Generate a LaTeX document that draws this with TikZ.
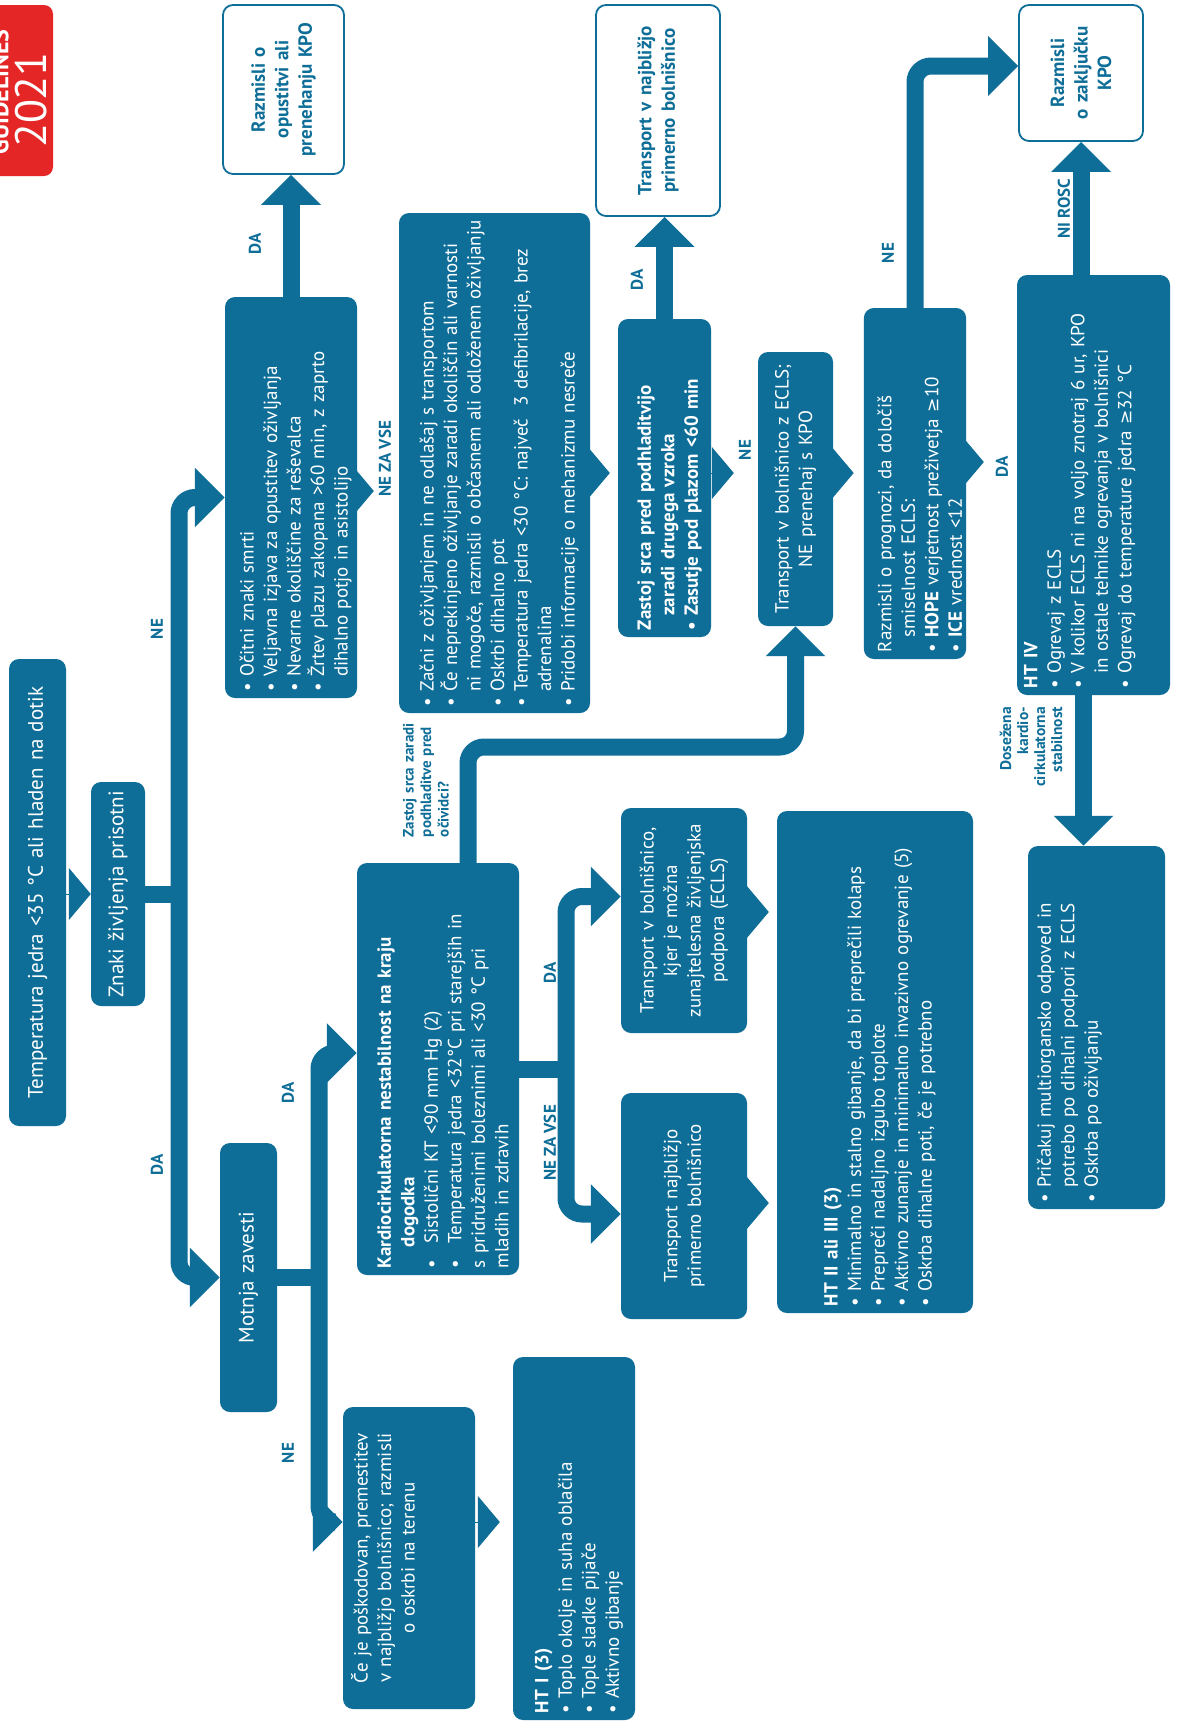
\documentclass[tikz,border=0pt]{standalone}
\usepackage{fontspec}
\setmainfont{PT Sans}
\newfontfamily\symf[Scale=0.9]{DejaVu Sans}
\usetikzlibrary{arrows.meta}
\definecolor{hb}{RGB}{14,110,152}
\definecolor{ercred}{RGB}{228,38,38}
\pgfdeclarelayer{bg}
\pgfsetlayers{bg,main}
% list helpers: bullet line and indented continuation line (never wrapped)
\newcommand\bitem[1]{\par\noindent\makebox[0.75em][l]{•}\mbox{#1}}
\newcommand\bcont[1]{\par\noindent\hspace*{0.75em}\mbox{#1}}
\newcommand\gsym{{\symf ≥}}
\newcommand\bodyfont{\fontsize{19}{23.5}\selectfont}
\newcommand\bigfont{\fontsize{21}{24}\selectfont}
\newcommand\labfont{\fontsize{17}{19}\selectfont\bfseries}
\newcommand\MP[4][t]{\begin{minipage}[c][#3][#1]{#2}#4\end{minipage}}
\begin{document}
\begin{tikzpicture}[x=1pt,y=-1pt,
  bigtip/.tip={Triangle[width=58pt,length=30pt]},
  bx/.style={rotate=90, fill=hb, text=white, rounded corners=10pt,
    inner xsep=7pt, inner ysep=4pt, align=left, font=\bodyfont},
  wbx/.style={rotate=90, draw=hb, line width=1.8pt, fill=white, text=hb,
    rounded corners=10pt, inner sep=4pt, align=center, font=\bodyfont\bfseries},
  lab/.style={rotate=90, text=hb, inner sep=0pt, font=\labfont},
  conn/.style={draw=hb, line width=17pt, rounded corners=16pt, -bigtip},
  both/.style={draw=hb, line width=17pt, rounded corners=16pt, bigtip-bigtip},
  stub/.style={draw=hb, line width=17pt},
  tab/.style={draw=hb, line width=1pt, -{Triangle[width=52pt,length=22pt]}}]
\useasboundingbox (0,0) rectangle (1176,1724);

% ---------- logo ----------
\node[rotate=90, fill=ercred, rounded corners=9pt, minimum width=171pt,
  minimum height=80pt, inner sep=0pt] (logo) at (13,90.5) {};
\node[rotate=90, text=white, font=\fontsize{44}{44}\selectfont, inner sep=0pt]
  (year) at (31,100) {2021};
\node[rotate=90, text=white, font=\fontsize{24}{24}\selectfont\bfseries,
  anchor=south, inner sep=0pt] (gl) at (9,92) {GUIDELINES};

% ---------- left column ----------
\node[bx, font=\bigfont, align=center, minimum width=467pt, minimum height=57pt,
  text width=453pt] (temp) at (37.5,892.5) {Temperatura jedra <35 °C ali hladen na dotik};
\node[bx, font=\bigfont, align=center, minimum width=224pt, minimum height=54pt,
  text width=210pt] (znaki) at (118,894) {Znaki življenja prisotni};
\node[bx, font=\bigfont, align=center, minimum width=269pt, minimum height=57pt,
  text width=255pt] (motnja) at (248.5,1277.5) {Motnja zavesti};

% ---------- upper row ----------
\node[bx, minimum width=401pt, minimum height=132pt, text width=387pt]
  (ocitni) at (291,497.5) {%
  \bitem{Očitni znaki smrti}
  \bitem{Veljavna izjava za opustitev oživljanja}
  \bitem{Nevarne okoliščine za reševalca}
  \bitem{Žrtev plazu zakopana >60 min, z zaprto}
  \bcont{dihalno potjo in asistolijo}};
\node[wbx, minimum width=169pt, minimum height=121pt, text width=160pt]
  (razm1) at (283.5,89.5) {Razmisli o\\opustitvi ali\\prenehanju KPO};

\node[bx, minimum width=498pt, minimum height=191pt, text width=486pt]
  (zacni) at (494.5,463) {%
  \bitem{Začni z oživljanjem in ne odlašaj s transportom}
  \bitem{Če neprekinjeno oživljanje zaradi okoliščin ali varnosti}
  \bcont{ni mogoče, razmisli o občasnem ali odloženem oživljanju}
  \bitem{Oskrbi dihalno pot}
  \bitem{Temperatura jedra <30 °C: največ\ \ 3 defibrilacije, brez}
  \bcont{adrenalina}
  \bitem{Pridobi informacije o mehanizmu nesreče}};

\node[wbx, minimum width=211pt, minimum height=124pt, text width=200pt]
  (white2) at (658,110.5) {Transport v najbližjo\\primerno bolnišnico};
\node[bx, font=\bodyfont\bfseries, minimum width=318pt, minimum height=93pt, text width=304pt]
  (zastoj) at (664.5,478) {%
  \par\noindent Zastoj srca pred podhladitvijo
  \bcont{zaradi drugega vzroka}
  \bitem{Zasutje pod plazom <60 min}};

\node[bx, align=center, minimum width=274pt, minimum height=75pt, text width=260pt]
  (ecls) at (795.5,489) {Transport v bolnišnico z ECLS;\\NE prenehaj s KPO};

\node[bx, minimum width=351pt, minimum height=100pt, text width=337pt]
  (prognoza) at (915,483.5) {%
  \par\noindent Razmisli o prognozi, da določiš
  \bcont{smiselnost ECLS:}
  \bitem{\textbf{HOPE} verjetnost preživetja \gsym10}
  \bitem{\textbf{ICE} vrednost <12}};

\node[wbx, minimum width=136pt, minimum height=124pt, text width=126pt]
  (zakl) at (1081,73) {Razmisli\\o zaključku\\KPO};

\node[bx, inner ysep=0pt, minimum width=420pt, minimum height=153pt, text width=406pt]
  (htiv) at (1093.5,485) {\MP{406pt}{139pt}{%
  \textbf{HT IV}
  \bitem{Ogrevaj z ECLS}
  \bitem{V kolikor ECLS ni na voljo znotraj 6 ur, KPO}
  \bcont{in ostale tehnike ogrevanja v bolnišnici}
  \bitem{Ogrevaj do temperature jedra \gsym32 °C}}};

\node[bx, inner ysep=0pt, minimum width=363pt, minimum height=137pt, text width=349pt]
  (pricakuj) at (1096.5,1027.5) {\MP{349pt}{119pt}{%
  \bitem{Pričakuj multiorgansko odpoved in}
  \bcont{potrebo po dihalni podpori z ECLS}
  \bitem{Oskrba po oživljanju}}};

% ---------- lower row ----------
\node[bx, minimum width=412pt, minimum height=162pt, text width=398pt]
  (kardio) at (438,1069) {%
  \par\noindent\textbf{Kardiocirkulatorna nestabilnost na kraju}
  \par\noindent\hspace*{1.1em}\textbf{dogodka}
  \par\noindent\makebox[1.3em][l]{•}Sistolični KT <90 mm Hg (2)
  \par\noindent\makebox[1.3em][l]{•}Temperatura jedra <32°C pri starejših in
  \par\noindent s pridruženimi boleznimi ali <30 °C pri
  \par\noindent mladih in zdravih};

\node[bx, align=center, inner ysep=0pt, minimum width=302pt, minimum height=132pt, text width=288pt]
  (cejep) at (409,1558) {\MP{288pt}{116pt}{\centering
  Če je poškodovan, premestitev\\v najbližjo bolnišnico; razmisli\\o oskrbi na terenu}};

\node[bx, minimum width=363pt, minimum height=122pt, text width=349pt]
  (hti) at (574,1538.5) {%
  \par\noindent\textbf{HT I (3)}
  \bitem{Toplo okolje in suha oblačila}
  \bitem{Tople sladke pijače}
  \bitem{Aktivno gibanje}};

\node[bx, align=center, minimum width=225pt, minimum height=126pt, text width=211pt]
  (kjer) at (684,920.5) {Transport v bolnišnico,\\kjer je možna\\zunajtelesna življenjska\\podpora (ECLS)};
\node[bx, align=center, minimum width=226pt, minimum height=126pt, text width=212pt]
  (najblizjo) at (684,1206) {Transport najbližjo\\primerno bolnišnico};

\node[bx, minimum width=502pt, minimum height=196pt, text width=488pt]
  (htii) at (875,1062) {%
  \par\noindent\textbf{HT II ali III (3)}
  \bitem{Minimalno in stalno gibanje, da bi preprečili kolaps}
  \bitem{Prepreči nadaljno izgubo toplote}
  \bitem{Aktivno zunanje in minimalno invazivno ogrevanje (5)}
  \bitem{Oskrba dihalne poti, če je potrebno}};

% ---------- branch labels ----------
\node[lab] (lNE1) at (157,629) {NE};
\node[lab] (lDA1) at (157,1165) {DA};
\node[lab] (lDA2) at (255,244) {DA};
\node[lab] (lNZV1) at (385,459) {NE ZA VSE};
\node[lab] (lDA3) at (637,280) {DA};
\node[lab] (lNE2) at (745,450) {NE};
\node[lab] (lNE3) at (888,253) {NE};
\node[lab] (lDA4) at (1002,467) {DA};
\node[lab] (lNR) at (1064,209) {NI ROSC};
\node[lab] (lDA5) at (288,1093) {DA};
\node[lab] (lNE4) at (288,1453) {NE};
\node[lab] (lDA6) at (550,973) {DA};
\node[lab] (lNZV2) at (550,1143) {NE ZA VSE};
\node[lab, align=left, text width=126pt, font=\fontsize{15}{17.5}\selectfont\bfseries]
  (lzastoj) at (426,774) {Zastoj srca zaradi\\podhladitve pred\\očividci?};
\node[lab, align=right, text width=128pt, font=\fontsize{15.5}{17}\selectfont\bfseries]
  (ldos) at (1031,771) {Dosežena\\kardio-\\cirkulatorna\\stabilnost};

% ---------- junction points and rows ----------
\coordinate (fork1) at (179,894);
\coordinate (fork2) at (319,1277.5);
\coordinate (fork3) at (566,1069);
\coordinate (zrow) at (0,747);
\coordinate (rowA) at (0,473);

% ---------- connectors ----------
\begin{pgfonlayer}{bg}
\fill[white] (0,0) rectangle (1176,1724);
\draw[stub] (znaki.south) -- (fork1);
\draw[both] (ocitni.north) -| (fork1) |- (motnja.north);
\draw[conn] (ocitni.east) -- (ocitni.east |- razm1.west);
\draw[stub] (motnja.south) -- (fork2);
\draw[both] ([yshift=16pt]kardio.north) -| (fork2) |- ([yshift=36pt]cejep.north);
\draw[stub] (kardio.south) -- (fork3);
\draw[both] ([yshift=24pt]kjer.north) -| (fork3) |- ([yshift=-8pt]najblizjo.north);
\draw[conn] ([xshift=30pt]kardio.east) |- (ecls.west |- zrow) -- (ecls.west);
\draw[conn] (zastoj.east) -- (zastoj.east |- white2.west);
\draw[conn] (prognoza.east) |- ([yshift=7pt]zakl.north);
\draw[conn] (zakl.west |- htiv.east) -- (zakl.west);
\draw[conn] ([xshift=-10pt]htiv.west) -- ([xshift=-10pt]htiv.west |- pricakuj.east);
% pointer tabs between neighbouring boxes
\draw[tab] (temp.south |- znaki.center) -- (znaki.north);
\draw[tab, shorten >=25pt] (ocitni.south |- 0,491) -- (zacni.north |- 0,491);
\draw[tab, shorten >=8pt] (zacni.south |- rowA) -- (zastoj.north |- rowA);
\draw[tab, shorten >=24pt] (zastoj.south |- rowA) -- (ecls.north |- rowA);
\draw[tab, shorten >=10pt] (ecls.south |- rowA) -- (prognoza.north |- rowA);
\draw[tab, shorten >=33pt] (prognoza.south |- 0,462) -- (htiv.north |- 0,462);
\draw[tab, shorten >=13pt] (cejep.south |- 0,1522) -- (hti.north |- 0,1522);
\draw[tab, shorten >=8pt] (kjer.south |- 0,912) -- (htii.north |- 0,912);
\draw[tab, shorten >=8pt] (najblizjo.south |- 0,1203) -- (htii.north |- 0,1203);
\end{pgfonlayer}
\end{tikzpicture}
\end{document}
